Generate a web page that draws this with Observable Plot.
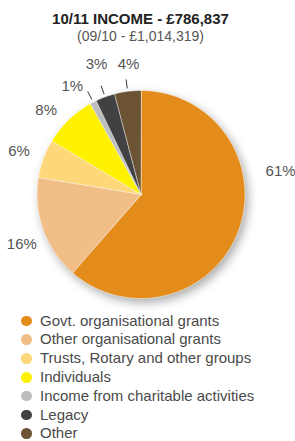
<!DOCTYPE html>
<html>
<head>
<meta charset="utf-8">
<script src="https://cdn.jsdelivr.net/npm/d3@7"></script>
<script src="https://cdn.jsdelivr.net/npm/@observablehq/plot@0.6"></script>
<style>
  html, body { margin: 0; padding: 0; background: #fff; }
  body { width: 295px; height: 441px; overflow: hidden; font-family: "Liberation Sans", Arial, sans-serif; }
  #title { padding: 9.8px 14px 0 0; width: 281px; text-align: center; height: 36.2px; }
  #title .t { font-weight: bold; font-size: 15px; line-height: 18px; color: #222; }
  #title .s { font-size: 14px; line-height: 17px; color: #555; }
  #chart { height: 265px; }
  #legend { margin-top: 0.6px; }
  .row { position: relative; height: 18.8px; line-height: 18.8px; font-size: 15px; color: #4a4a4a; padding-left: 40px; white-space: nowrap; }
  .row .sw { position: absolute; left: 21.4px; top: 4.1px; width: 10.6px; height: 10.6px; border-radius: 50%; }
</style>
</head>
<body>
<div id="title"></div>
<div id="chart"></div>
<div id="legend"></div>
<script>
const titleText = "10/11 INCOME - £786,837";
const subtitleText = "(09/10 - £1,014,319)";
const categories = [
  "Govt. organisational grants",
  "Other organisational grants",
  "Trusts, Rotary and other groups",
  "Individuals",
  "Income from charitable activities",
  "Legacy",
  "Other"
];
const shares = [61.4, 16.2, 6.0, 8.3, 1.0, 3.0, 4.1];
const labels = ["61%", "16%", "6%", "8%", "1%", "3%", "4%"];
const colors = ["#E38C1B", "#F0BE86", "#FDD779", "#FFF200", "#BCBDBF", "#414042", "#6C5333"];

// layout (pixels)
const W = 295, H = 265, CX = 140.5, CY = 148, R = 104;
const LABEL_R = 132;
const labelNudge = [[16, -70], [5, 5], [2, 2], [-3, 10], [-8, 9], [1, -6], [4.5, 1]];
const LEADER = [107, 116];

// title
document.getElementById("title").innerHTML =
  `<div class="t">${titleText}</div><div class="s">${subtitleText}</div>`;

const rows = categories.map((c, i) => ({cat: c, share: shares[i], label: labels[i]}));
const arcs = d3.pie().sort(null).value(d => d.share)(rows);

const polyPts = [];
arcs.forEach(a => {
  const c = a.data.cat;
  polyPts.push({cat: c, x: 0, y: 0});
  const n = Math.max(2, Math.ceil((a.endAngle - a.startAngle) / (Math.PI / 180)));
  for (let k = 0; k <= n; k++) {
    const t = a.startAngle + (a.endAngle - a.startAngle) * k / n;
    polyPts.push({cat: c, x: R * Math.sin(t), y: -R * Math.cos(t)});
  }
});

const labelPts = arcs.map((a, i) => {
  const m = (a.startAngle + a.endAngle) / 2;
  return {text: a.data.label, x: LABEL_R * Math.sin(m) + labelNudge[i][0], y: -LABEL_R * Math.cos(m) + labelNudge[i][1]};
});

const leaders = arcs.filter(a => a.data.share < 5).map(a => {
  const m = (a.startAngle + a.endAngle) / 2;
  return {x1: LEADER[0] * Math.sin(m), y1: -LEADER[0] * Math.cos(m), x2: LEADER[1] * Math.sin(m), y2: -LEADER[1] * Math.cos(m)};
});

const plot = Plot.plot({
  width: W,
  height: H,
  margin: 0,
  style: {background: "transparent", fontFamily: '"Liberation Sans", Arial, sans-serif'},
  x: {type: "linear", domain: [-CX, W - CX], axis: null},
  y: {type: "linear", domain: [-CY, H - CY], range: [0, H], axis: null},
  color: {domain: categories, range: colors},
  marks: [
    Plot.line(polyPts, {x: "x", y: "y", z: "cat", fill: "cat", stroke: "#ffffff", strokeWidth: 0.6, strokeOpacity: 0.8, curve: "linear-closed"}),
    Plot.link(leaders, {x1: "x1", y1: "y1", x2: "x2", y2: "y2", stroke: "#333", strokeWidth: 1}),
    Plot.text(labelPts, {x: "x", y: "y", text: "text", fill: "#555", fontSize: 15})
  ]
});
const lineG = plot.querySelector('g[aria-label="line"]');
if (lineG) lineG.style.filter = "drop-shadow(3px 4px 5px rgba(0,0,0,0.32))";
document.getElementById("chart").appendChild(plot);

// legend
const lg = document.getElementById("legend");
categories.forEach((c, i) => {
  const r = document.createElement("div");
  r.className = "row";
  r.innerHTML = `<span class="sw" style="background:${colors[i]}"></span>${c}`;
  lg.appendChild(r);
});
</script>
</body>
</html>
